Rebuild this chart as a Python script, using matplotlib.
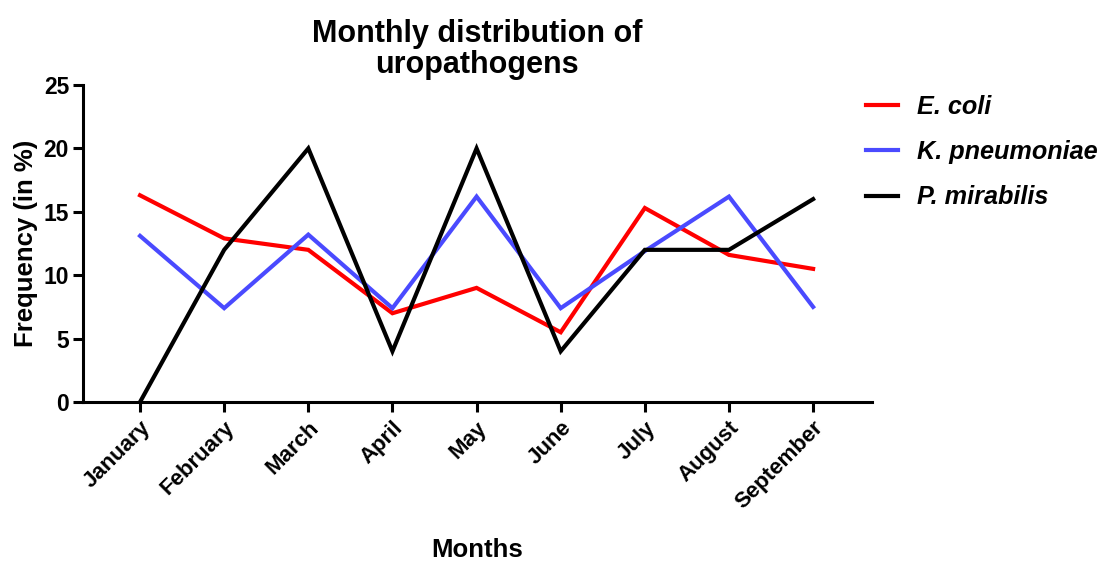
import matplotlib
matplotlib.use("Agg")
import matplotlib.pyplot as plt
from matplotlib.lines import Line2D

plt.rcParams['font.family'] = ['Liberation Sans', 'DejaVu Sans']

months = ["January", "February", "March", "April", "May", "June", "July", "August", "September"]
e_coli = [16.3, 12.9, 12.0, 7.0, 9.0, 5.5, 15.3, 11.6, 10.5]
k_pneumoniae = [13.1, 7.4, 13.2, 7.4, 16.2, 7.4, 11.9, 16.2, 7.5]
p_mirabilis = [0, 12, 20, 4, 20, 4, 12, 12, 16]
series_names = ["E. coli", "K. pneumoniae", "P. mirabilis"]
series_colors = ["#ff0000", "#4a4aff", "#000000"]
yticks = [0, 5, 10, 15, 20, 25]

W, H = 1103, 561
fig = plt.figure(figsize=(W/100, H/100), dpi=100)
ax = fig.add_axes([83/W, 1-402/H, (872-83)/W, (402-85)/H])

x = list(range(len(months)))
for vals, name, col in zip([e_coli, k_pneumoniae, p_mirabilis], series_names, series_colors):
    ax.plot(x, vals, color=col, lw=3.0, label=name, solid_joinstyle='miter')

ax.set_xlim(-0.678, 8.70)
ax.set_ylim(0, 25)
ax.set_yticks(yticks)
ax.set_xticks(x)
ax.set_xticklabels(months, rotation=45, ha='right', va='top', rotation_mode='anchor',
                   fontsize=16, fontweight='bold')
for lab in ax.get_yticklabels():
    lab.set_fontsize(16.5)
    lab.set_fontweight('bold')
ax.spines['top'].set_visible(False)
ax.spines['right'].set_visible(False)
for s in ['left', 'bottom']:
    ax.spines[s].set_linewidth(2.2)
ax.tick_params(axis='both', width=2.2, length=7, direction='out')
ax.tick_params(axis='x', pad=4)
ax.tick_params(axis='y', pad=3)

ax.set_ylabel("Frequency (in %)", fontsize=18.5, fontweight='bold', labelpad=4)
fig.text(477/W, 1-550/H, "Months", fontsize=18.5, fontweight='bold', ha='center', va='center')
fig.text(477/W, 1-42/H, "Monthly distribution of", fontsize=22, fontweight='bold',
         ha='center', va='baseline')
fig.text(477/W, 1-73/H, "uropathogens", fontsize=22, fontweight='bold',
         ha='center', va='baseline')

handles = [Line2D([0], [0], color=c, lw=3.0) for c in series_colors]
leg = fig.legend(handles, series_names, loc='upper left', bbox_to_anchor=(866/W, 1-95/H),
                 frameon=False, handlelength=1.25, handletextpad=0.78, labelspacing=0.84,
                 borderaxespad=0, borderpad=0,
                 prop={'size': 18.2, 'weight': 'bold', 'style': 'italic'})

fig.savefig("out.png", dpi=100)
